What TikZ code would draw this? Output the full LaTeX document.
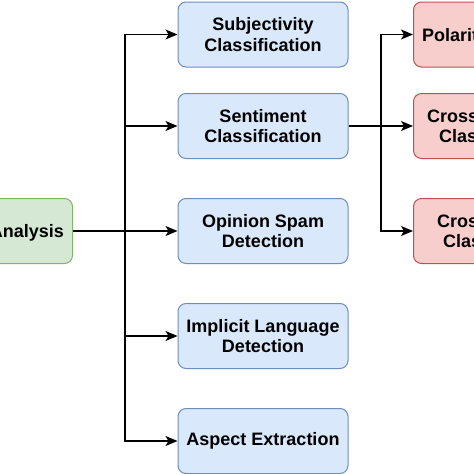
\documentclass[tikz,border=0pt]{standalone}
\usepackage{fontspec}
\setmainfont{Liberation Sans}
\usetikzlibrary{arrows.meta}
\definecolor{SABlue}{HTML}{DAE8FC}
\definecolor{SABlueLine}{HTML}{6C8EBF}
\definecolor{SAGreen}{HTML}{D5E8D4}
\definecolor{SAGreenLine}{HTML}{82B366}
\definecolor{SARed}{HTML}{F8CECC}
\definecolor{SARedLine}{HTML}{B85450}

\begin{document}
\begin{tikzpicture}[x=1pt,y=-1pt,font=\bfseries\fontsize{18}{20.5}\selectfont,
  task/.style={draw=SABlueLine,fill=SABlue,line width=1pt,rounded corners=8pt,
    minimum width=170pt,minimum height=65pt,align=center,inner sep=2pt},
  subtask/.style={task,draw=SARedLine,fill=SARed},
  rootbox/.style={task,draw=SAGreenLine,fill=SAGreen,minimum width=160pt},
  lbl/.style={inner sep=0pt},
  link/.style={line width=1.3pt,-{Stealth[length=12pt,width=10pt,inset=3pt]}}]
  \path[use as bounding box,clip] (0,0) rectangle (474,474);
  % tasks in the middle column
  \node[task] (subj) at (263,34.5) {Subjectivity\\Classification};
  \node[task] (sent) at (263,126) {Sentiment\\Classification};
  \node[task] (spam) at (263,231) {Opinion Spam\\Detection};
  \node[task] (impl) at (263,336) {Implicit Language\\Detection};
  \node[task] (asp) at (263,441) {Aspect Extraction};
  % root, cut by the left edge
  \node[rootbox,anchor=east] (sa) at (73,231) {};
  \node[lbl,anchor=base east] (saT) at (64,237.5) {Analysis};
  % subtasks, cut by the right edge
  \node[subtask,anchor=west] (pol) at (413,34.5) {};
  \node[subtask,anchor=west] (xa) at (413,126) {};
  \node[subtask,anchor=west] (xb) at (413,231) {};
  \node[lbl,anchor=base west] (polT) at (422,41) {Polarit};
  \node[lbl,anchor=base west] (xaT1) at (427,122) {Cross};
  \node[lbl,anchor=base west] (xaT2) at (439,142.5) {Clas};
  \node[lbl,anchor=base west] (xbT1) at (437,227) {Cros};
  \node[lbl,anchor=base west] (xbT2) at (443,247.5) {Clas};
  % connectors
  \coordinate (busA) at (125,0);
  \coordinate (busB) at (381,0);
  \draw[link] (sa.east) -- (spam.west);
  \foreach \t in {subj,sent,impl,asp}
    \draw[link] (sa.east -| busA) |- (\t.west);
  \draw[link] (sent.east) -- (xa.west);
  \foreach \t in {pol,xb}
    \draw[link] (sent.east -| busB) |- (\t.west);
\end{tikzpicture}
\end{document}
